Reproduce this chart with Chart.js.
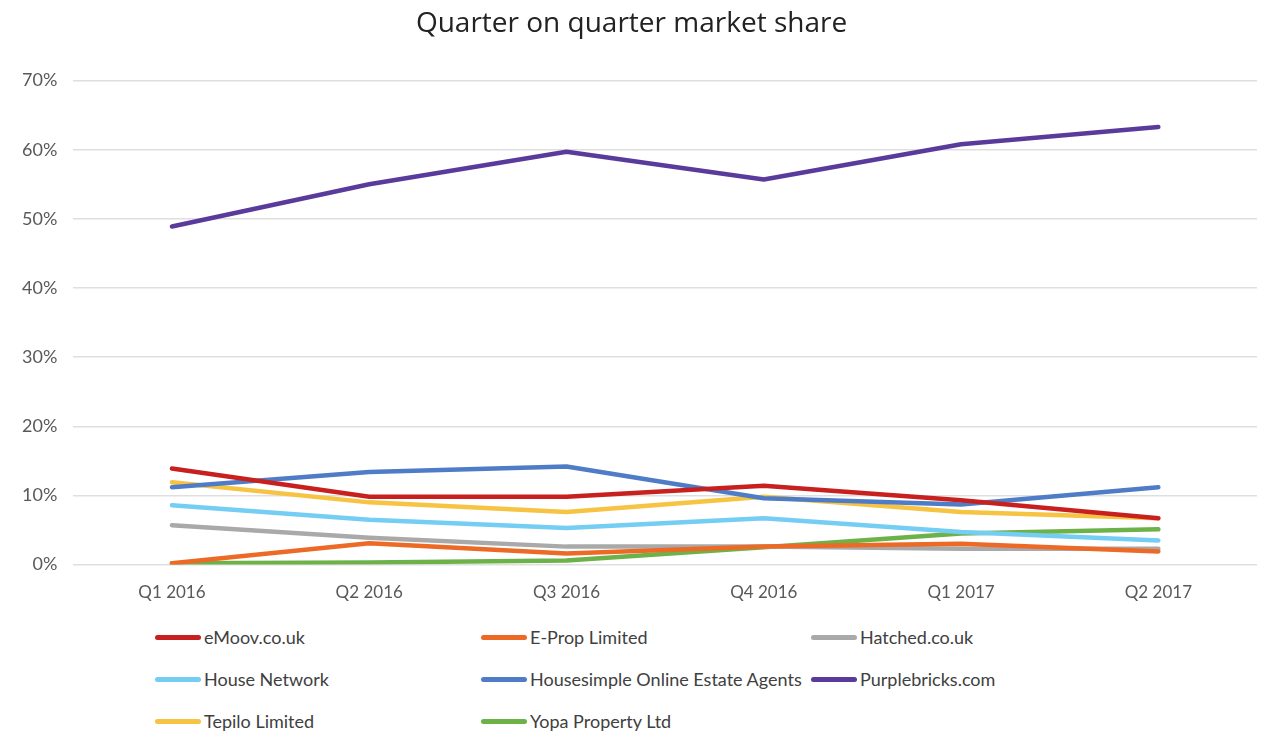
<!DOCTYPE html>
<html>
<head>
<meta charset="utf-8">
<script src="https://cdn.jsdelivr.net/npm/chart.js@4.4.0/dist/chart.umd.min.js"></script>
<style>
    body { margin: 0; background: #fff; font-family: Lato, sans-serif; }
    #wrap { position: relative; width: 1263px; height: 733px; }
    #share-chart { position: absolute; left: 0; top: 0; }
    #legend {
        position: absolute; left: 155px; top: 626px;
        display: grid; grid-template-columns: 326px 330px 330px;
        row-gap: 20px;
    }
    .item { display: flex; align-items: center; font-size: 18px; color: #404040; height: 22px; white-space: nowrap; }
    .swatch { width: 46px; height: 5px; border-radius: 3px; margin-right: 3px; }
</style>
</head>
<body>
<div id="wrap">
    <canvas id="share-chart" width="1263" height="617"></canvas>
    <div id="legend"></div>
</div>
<script>
const quarters = ["Q1 2016", "Q2 2016", "Q3 2016", "Q4 2016", "Q1 2017", "Q2 2017"]

// market share per quarter, in %
const emoov = [13.9, 9.8, 9.8, 11.4, 9.3, 6.7]
const eprop = [0.2, 3.1, 1.6, 2.6, 3.0, 1.9]
const hatched = [5.7, 3.9, 2.6, 2.6, 2.3, 2.3]
const houseNetwork = [8.6, 6.5, 5.3, 6.7, 4.7, 3.5]
const housesimple = [11.2, 13.4, 14.2, 9.6, 8.7, 11.2]
const purplebricks = [48.9, 55.0, 59.7, 55.7, 60.8, 63.3]
const tepilo = [11.9, 9.0, 7.6, 9.8, 7.6, 6.7]
const yopa = [0.2, 0.3, 0.6, 2.5, 4.5, 5.1]

const seriesNames = ["eMoov.co.uk", "E-Prop Limited", "Hatched.co.uk", "House Network",
    "Housesimple Online Estate Agents", "Purplebricks.com", "Tepilo Limited", "Yopa Property Ltd"]
const seriesData = [emoov, eprop, hatched, houseNetwork, housesimple, purplebricks, tepilo, yopa]
const seriesColors = ["#c8201f", "#ec6a26", "#a9a9a9", "#74cdf3", "#4f7cc6", "#5a3b9c", "#f6c343", "#6db249"]

const yTicks = [0, 10, 20, 30, 40, 50, 60, 70]

const datasets = seriesNames.map((name, i) => {
    return {
        label: name,
        data: seriesData[i],
        borderColor: seriesColors[i],
        backgroundColor: seriesColors[i],
        borderWidth: 4.5,
        pointRadius: 0,
        borderCapStyle: "round",
        borderJoinStyle: "round",
        tension: 0
    }
})

const ctx = document.getElementById("share-chart")

new Chart(ctx, {
    type: "line",
    data: {
        labels: quarters,
        datasets: datasets
    },
    options: {
        responsive: false,
        animation: false,
        layout: {
            padding: { left: 6, right: 6, top: 6, bottom: 4 }
        },
        plugins: {
            legend: { display: false },
            tooltip: { enabled: false },
            title: {
                display: true,
                text: "Quarter on quarter market share",
                color: "#222",
                font: { family: "'Open Sans'", size: 28, weight: "normal" },
                padding: { top: 1, bottom: 40 }
            }
        },
        scales: {
            x: {
                offset: true,
                grid: { display: false },
                border: { display: false },
                ticks: {
                    color: "#595959",
                    font: { family: "Lato", size: 17 },
                    padding: 10
                }
            },
            y: {
                min: 0,
                max: 70,
                afterBuildTicks: (axis) => {
                    axis.ticks = yTicks.map((v) => ({ value: v }))
                },
                grid: { color: "#dfdfdf", lineWidth: 1.5, drawTicks: false },
                border: { display: false },
                ticks: {
                    color: "#595959",
                    font: { family: "Lato", size: 18 },
                    padding: 16,
                    callback: (value) => value + "%"
                }
            }
        }
    }
})

// Build the three column legend from the series lists
const legendBox = document.getElementById("legend")
seriesNames.forEach((name, i) => {
    legendBox.innerHTML += `<div class="item"><span class="swatch" style="background:${seriesColors[i]}"></span>${name}</div>`
})
</script>
</body>
</html>
